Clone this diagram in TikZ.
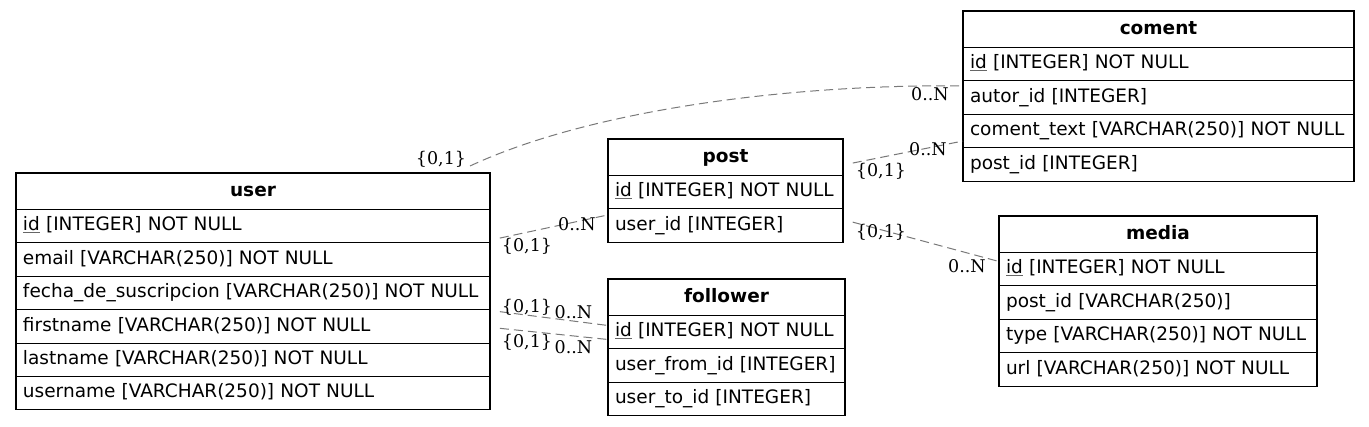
\documentclass[tikz,border=0pt]{standalone}
\usepackage{fontspec}
\setmainfont{DejaVu Sans}
\newfontfamily\lblfont{DejaVu Serif}
\usetikzlibrary{calc}
\newcommand\pkey[1]{\rlap{\color{gray!80!black}\underline{\phantom{#1}}}#1}
\tikzset{
  cell/.style={draw, line width=1.1pt, inner xsep=7pt, inner ysep=0pt, outer sep=0pt,
    text width=#1, minimum height=33.4pt, text height=13.5pt, text depth=4pt,
    align=left, anchor=north west, font=\fontsize{18.5}{22}\selectfont},
  hd/.style={cell=#1, minimum height=36.5pt, text depth=3pt, align=center,
    font=\fontsize{18.5}{22}\selectfont\bfseries},
  rel/.style={draw=gray!95!black, line width=1pt, dash pattern=on 9pt off 5pt},
  card/.style={anchor=base, inner sep=0pt, font=\lblfont\fontsize{17.5}{20}\selectfont}
}
\begin{document}
\begin{tikzpicture}[x=1pt,y=-1pt]
\useasboundingbox (0,0) rectangle (1369,426);
% user
\node[hd=460pt] (user-h) at (16,173) {user};
\node[cell=460pt] (user-r1) at (user-h.south west) {\pkey{id} [INTEGER] NOT NULL};
\node[cell=460pt] (user-r2) at (user-r1.south west) {email [VARCHAR(250)] NOT NULL};
\node[cell=460pt] (user-r3) at (user-r2.south west) {\mbox{fecha\_de\_suscripcion [VARCHAR(250)] NOT NULL}};
\node[cell=460pt] (user-r4) at (user-r3.south west) {firstname [VARCHAR(250)] NOT NULL};
\node[cell=460pt] (user-r5) at (user-r4.south west) {lastname [VARCHAR(250)] NOT NULL};
\node[cell=460pt] (user-r6) at (user-r5.south west) {username [VARCHAR(250)] NOT NULL};
% post
\node[hd=221pt] (post-h) at (608,139) {post};
\node[cell=221pt] (post-r1) at (post-h.south west) {\mbox{\pkey{id} [INTEGER] NOT NULL}};
\node[cell=221pt] (post-r2) at (post-r1.south west) {user\_id [INTEGER]};
% follower
\node[hd=223pt] (follower-h) at (608,279) {follower};
\node[cell=223pt] (follower-r1) at (follower-h.south west) {\mbox{\pkey{id} [INTEGER] NOT NULL}};
\node[cell=223pt] (follower-r2) at (follower-r1.south west) {\mbox{user\_from\_id [INTEGER]}};
\node[cell=223pt] (follower-r3) at (follower-r2.south west) {user\_to\_id [INTEGER]};
% coment
\node[hd=377pt] (coment-h) at (963,11) {coment};
\node[cell=377pt] (coment-r1) at (coment-h.south west) {\pkey{id} [INTEGER] NOT NULL};
\node[cell=377pt] (coment-r2) at (coment-r1.south west) {autor\_id [INTEGER]};
\node[cell=377pt] (coment-r3) at (coment-r2.south west) {\mbox{coment\_text [VARCHAR(250)] NOT NULL}};
\node[cell=377pt] (coment-r4) at (coment-r3.south west) {post\_id [INTEGER]};
% media
\node[hd=304pt] (media-h) at (999,216) {media};
\node[cell=304pt] (media-r1) at (media-h.south west) {\pkey{id} [INTEGER] NOT NULL};
\node[cell=304pt] (media-r2) at (media-r1.south west) {post\_id [VARCHAR(250)]};
\node[cell=304pt] (media-r3) at (media-r2.south west) {\mbox{type [VARCHAR(250)] NOT NULL}};
\node[cell=304pt] (media-r4) at (media-r3.south west) {url [VARCHAR(250)] NOT NULL};
% connector end points
\coordinate (uc1) at ($(user-h.north east)+(-20,-7)$);
\coordinate (uc2) at ($(coment-r2.north west)+(0,5)$);
% connectors
\draw[rel] (uc1) .. controls (590,110) and (790,84) .. (uc2);
\draw[rel, shorten <=10pt] ($(user-r1.south east)+(0,-2.7)$) -- ($(post-r2.north west)+(0,6)$);
\draw[rel, shorten <=10pt] ($(user-r4.north east)+(0,0.7)$) -- ($(follower-r1.north west)+(0,10)$);
\draw[rel, shorten <=10pt] ($(user-r4.north east)+(0,17.6)$) -- ($(follower-r1.north west)+(0,24)$);
\draw[rel, shorten <=10pt] ($(post-h.south east)+(0,-10.5)$) -- ($(coment-r3.south west)+(0,-6.7)$);
\draw[rel, shorten <=10pt] ($(post-r2.north east)+(0,10.6)$) -- ($(media-r1.north west)+(0,9)$);
% cardinalities
\node[card] (c1a) at (441,164.5) {\{0,1\}};
\node[card] (c1b) at (930,100) {0..N};
\node[card] (c2a) at (527,251.5) {\{0,1\}};
\node[card] (c2b) at (577,230) {0..N};
\node[card] (c3a) at (527,312) {\{0,1\}};
\node[card] (c3b) at (573.5,318) {0..N};
\node[card] (c4a) at (527,347) {\{0,1\}};
\node[card] (c4b) at (573.5,353) {0..N};
\node[card] (c5a) at (881,176) {\{0,1\}};
\node[card] (c5b) at (928,155) {0..N};
\node[card] (c6a) at (881,237) {\{0,1\}};
\node[card] (c6b) at (967,272.5) {0..N};
\end{tikzpicture}
\end{document}
